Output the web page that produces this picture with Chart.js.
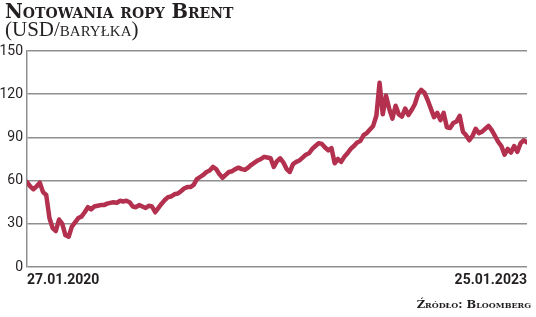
<!DOCTYPE html>
<html>
<head>
<meta charset="utf-8">
<script src="https://cdn.jsdelivr.net/npm/chart.js@4.4.1/dist/chart.umd.min.js"></script>
<style>
  html, body { margin: 0; padding: 0; background: #fff; width: 536px; height: 317px; overflow: hidden; }
  #wrap { position: relative; width: 536px; height: 317px; }
  canvas { position: absolute; left: 0; top: 0; }
  .title { position: absolute; left: 5px; top: 0px; font-family: 'DejaVu Serif', serif; font-weight: bold; font-size: 19.5px; font-variant: small-caps; color: #231f20; white-space: nowrap; }
  .sub { position: absolute; left: 5px; top: 17px; font-family: 'Liberation Serif', serif; font-size: 21px; color: #231f20; white-space: nowrap; }
  .sub .sc { font-variant: small-caps; }
  .src { position: absolute; right: 5px; top: 297px; font-family: 'DejaVu Serif', serif; font-weight: bold; font-size: 11.5px; font-variant: small-caps; color: #231f20; white-space: nowrap; }
</style>
</head>
<body>
<div id="wrap">
  <canvas id="c" width="536" height="317"></canvas>
  <div class="title">Notowania ropy Brent</div>
  <div class="sub">(USD/<span class="sc">baryłka</span>)</div>
  <div class="src">Źródło: Bloomberg</div>
</div>
<script>
// Weekly Brent prices, USD per barrel, from 27.01.2020 to 25.01.2023
const prices = [
  59, 56, 54, 56, 58.5, 52, 50, 34, 27, 25,
  33, 30, 22, 21, 28, 31, 34, 35, 38, 41.5,
  40, 42, 42.5, 43, 43, 44, 44.5, 45, 44.5, 46,
  45.5, 46, 45, 42, 41.5, 43, 42, 41, 42.5, 42,
  38, 41, 44, 46.5, 48.5, 49, 50.5, 51, 52.5, 54.5,
  55.5, 55.5, 57, 61, 62.5, 64, 66, 67, 69.5, 68,
  64.5, 62, 64, 66, 66.5, 68, 69, 68, 67.5, 69,
  71, 72.5, 74, 75, 76.5, 76, 75.5, 69.5, 73.5, 75.5,
  72.5, 68, 66, 71.5, 73, 74, 76, 78, 79, 82,
  84, 86, 85.5, 83, 81, 82.5, 72, 75, 73, 76.5,
  79, 82, 84, 86.5, 87.5, 91.5, 93, 95.5, 98, 105,
  128, 106, 119, 110, 103, 112, 106, 104.5, 110, 105.5,
  109, 113, 120, 123, 121, 116, 110, 104, 107, 102,
  107, 97, 96.5, 100, 101, 105, 94, 91.5, 88, 91,
  96, 93, 94, 96, 98, 95, 91, 87, 84, 78,
  82, 79.5, 84, 80, 86, 88, 86.5
];
const weeks = prices.map((_, i) => i);
const xTickLabels = ['27.01.2020', '25.01.2023'];
const yTicks = [0, 30, 60, 90, 120, 150];

const lineColor = '#b3304f';
const gridColor = '#8f8f8f';
const tickFamily = "Roboto, 'Liberation Sans', sans-serif";

new Chart(document.getElementById('c'), {
  type: 'line',
  data: {
    labels: weeks,
    datasets: [{
      data: weeks.map((w, i) => ({ x: w, y: prices[i] })),
      borderColor: lineColor,
      borderWidth: 4.5,
      pointRadius: 0,
      tension: 0,
      borderJoinStyle: 'round',
      borderCapStyle: 'round',
      fill: false
    }]
  },
  options: {
    responsive: false,
    animation: false,
    events: [],
    layout: { padding: { top: 51, right: 9, left: 0, bottom: 0 } },
    plugins: { legend: { display: false }, tooltip: { enabled: false } },
    scales: {
      x: {
        type: 'linear',
        min: 0,
        max: weeks.length - 1,
        grid: { display: false, drawTicks: false },
        border: { display: false },
        afterBuildTicks: s => { s.ticks = [{ value: 0 }, { value: weeks.length - 1 }]; },
        afterFit: s => { s.height = 50; },
        ticks: {
          autoSkip: false,
          maxRotation: 0,
          align: 'inner',
          padding: 5,
          color: '#231f20',
          font: { family: tickFamily, size: 14, weight: 'bold' },
          callback: (v, i) => xTickLabels[i]
        }
      },
      y: {
        min: 0,
        max: 150,
        afterBuildTicks: s => { s.ticks = yTicks.map(v => ({ value: v })); },
        afterFit: s => { s.width = 27; },
        grid: { color: gridColor, lineWidth: 1.5, drawTicks: false },
        border: { display: true, color: gridColor, width: 1.5 },
        ticks: {
          padding: 4,
          color: '#231f20',
          font: { family: tickFamily, size: 14 }
        }
      }
    }
  }
});
</script>
</body>
</html>
